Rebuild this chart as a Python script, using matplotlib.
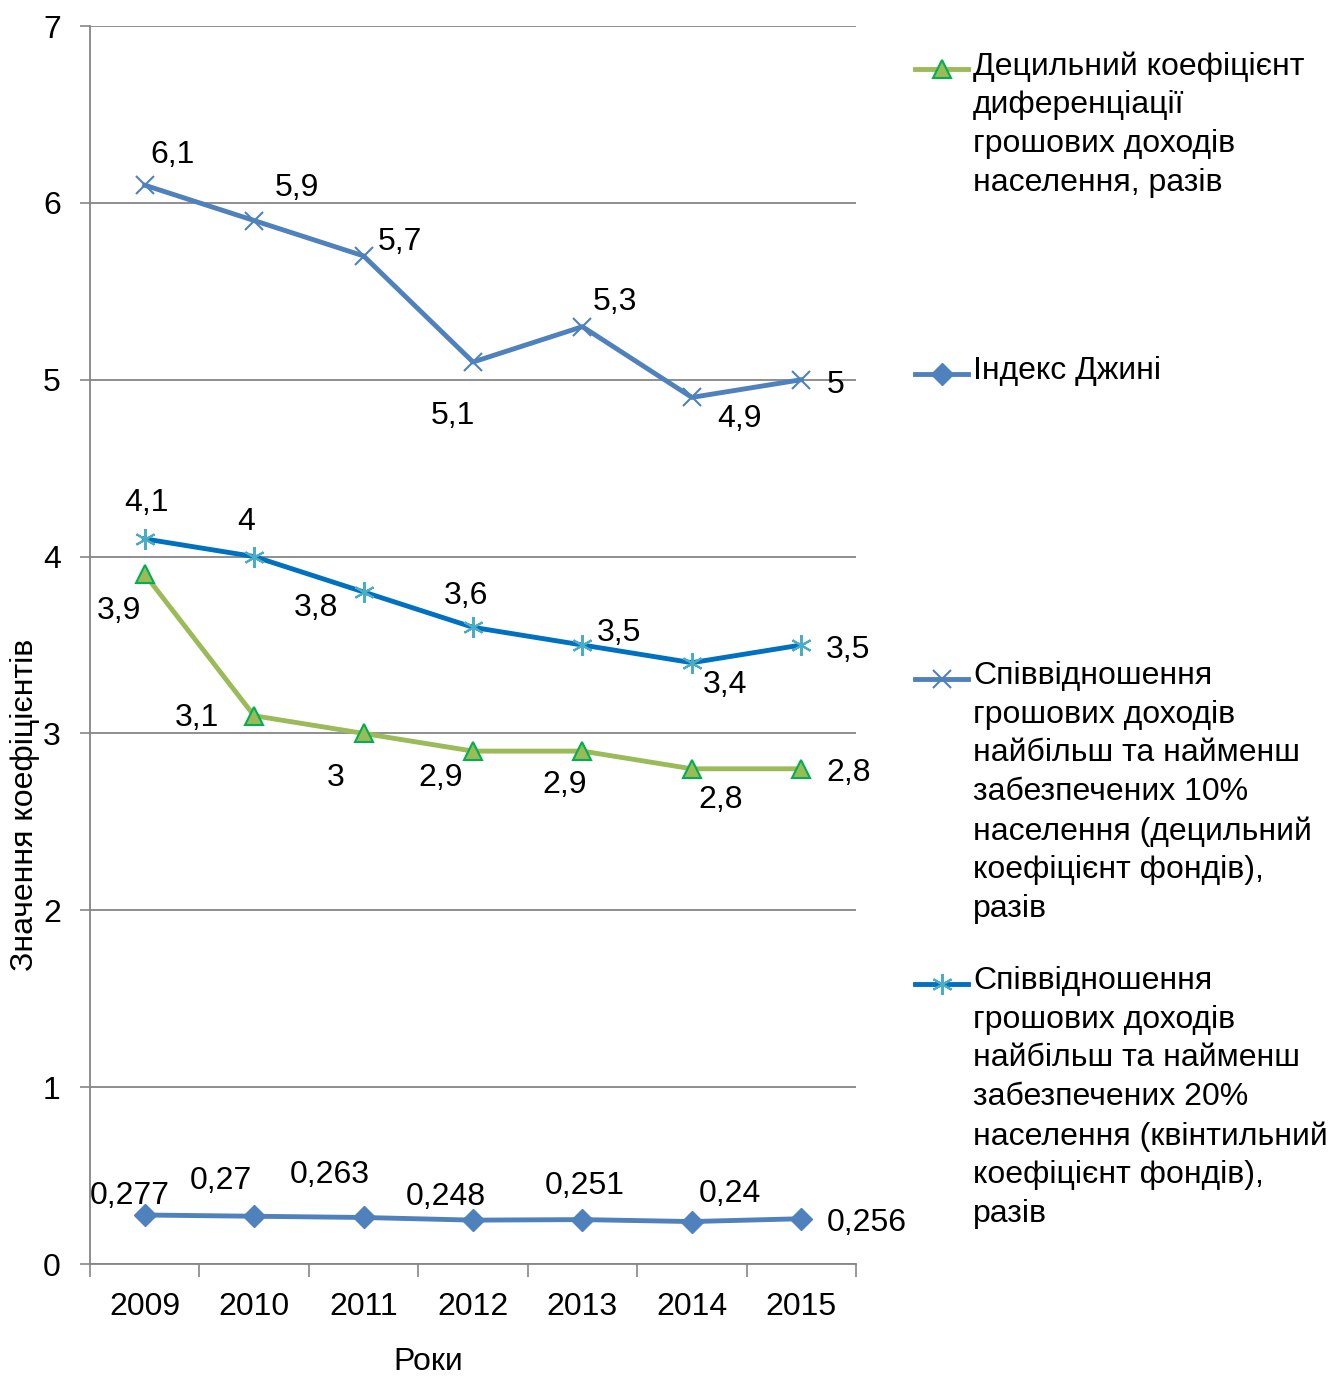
import matplotlib.pyplot as plt
from matplotlib.lines import Line2D

plt.rcParams['font.family'] = ['Liberation Sans', 'DejaVu Sans']

years = ['2009', '2010', '2011', '2012', '2013', '2014', '2015']
decile_coef = [3.9, 3.1, 3.0, 2.9, 2.9, 2.8, 2.8]
gini = [0.277, 0.27, 0.263, 0.248, 0.251, 0.24, 0.256]
ratio_10 = [6.1, 5.9, 5.7, 5.1, 5.3, 4.9, 5.0]
ratio_20 = [4.1, 4.0, 3.8, 3.6, 3.5, 3.4, 3.5]

legend_texts = [
    'Децильний коефіцієнт\nдиференціації\nгрошових доходів\nнаселення, разів',
    'Індекс Джині',
    'Співвідношення\nгрошових доходів\nнайбільш та найменш\nзабезпечених 10%\nнаселення (децильний\nкоефіцієнт фондів),\nразів',
    'Співвідношення\nгрошових доходів\nнайбільш та найменш\nзабезпечених 20%\nнаселення (квінтильний\nкоефіцієнт фондів),\nразів',
]

# label offsets in pixels (dx, dy) relative to each point
off_10 = [(28, 33), (43, 36), (36, 17), (-20, -51), (33, 28), (48, -19), (34, -2)]
off_20 = [(2, 39), (-8, 38), (-48, -13), (-7, 34), (37, 15), (33, -19), (47, -2)]
off_dec = [(-26, -34), (-57, 1), (-28, -42), (-32, -24), (-18, -31), (29, -28), (47, -1)]
off_gini = [(-15, 22), (-33, 38), (-34, 45), (-27, 26), (2, 37), (38, 31), (65, -1)]

FS = 23
W, H = 1332, 1377
fig = plt.figure(figsize=(W / 100, H / 100), dpi=100)
ax = fig.add_axes([90 / W, 1 - 1264 / H, (856 - 90) / W, (1264 - 26) / H])

x = list(range(len(years)))
styles = [
    (decile_coef, off_dec, dict(color='#9BBB59', lw=3.5, marker='^', ms=13,
                                mfc='#9BBB59', mec='#00B050', mew=1.5)),
    (gini, off_gini, dict(color='#4F81BD', lw=3.5, marker='D', ms=11,
                          mfc='#4F81BD', mec='#4F81BD')),
    (ratio_10, off_10, dict(color='#4F81BD', lw=3.5, marker='x', ms=13,
                            mec='#4F81BD', mew=1.5)),
    (ratio_20, off_20, dict(color='#0070C0', lw=3.5, marker=(6, 2, 0), ms=15,
                            mec='#4BACC6', mew=1.5)),
]

for vals, offs, st in styles:
    ax.plot(x, vals, zorder=3, **st)
    for xi, v, (dx, dy) in zip(x, vals, offs):
        ax.annotate(f'{v:g}'.replace('.', ','), (xi, v), xytext=(dx, dy - 3),
                    textcoords='offset pixels', ha='center', va='center',
                    fontsize=FS, zorder=4)

ax.set_xlim(-0.5, len(years) - 0.5)
ax.set_ylim(0, 7)
ax.set_yticks(range(8))
ax.set_xticks(x)
ax.set_xticklabels(years)
ax.set_xticks([i - 0.5 for i in range(len(years) + 1)], minor=True)
ax.tick_params(axis='x', which='major', length=0, labelsize=FS, pad=20)
ax.tick_params(axis='x', which='minor', length=9, width=1.2, color='#868686')
ax.tick_params(axis='y', length=7, width=1.2, color='#868686', labelsize=FS, pad=14)
ax.grid(axis='y', color='#868686', lw=1.3)
ax.set_axisbelow(True)
for s in ['top', 'right']:
    ax.spines[s].set_visible(False)
for s in ['left', 'bottom']:
    ax.spines[s].set_color('#868686')
    ax.spines[s].set_linewidth(1.3)

fig.text(428 / W, 1 - 1362 / H, 'Роки', ha='center', va='center', fontsize=FS)
fig.text(25 / W, 1 - 805 / H, 'Значення коефіцієнтів', ha='center', va='center',
         rotation=90, fontsize=FS)

# legend
leg_y = [69, 374, 679, 984]
for (vals, offs, st), txt, yy in zip(styles, legend_texts, leg_y):
    yf = 1 - yy / H
    fig.add_artist(Line2D([915 / W, 941.5 / W, 968 / W], [yf, yf, yf],
                          transform=fig.transFigure, markevery=[1], **st))
    fig.text(973 / W, 1 - (yy - 18) / H, txt, ha='left', va='top', fontsize=FS,
             linespacing=1.38, transform=fig.transFigure)

fig.savefig('out.png', dpi=100)
